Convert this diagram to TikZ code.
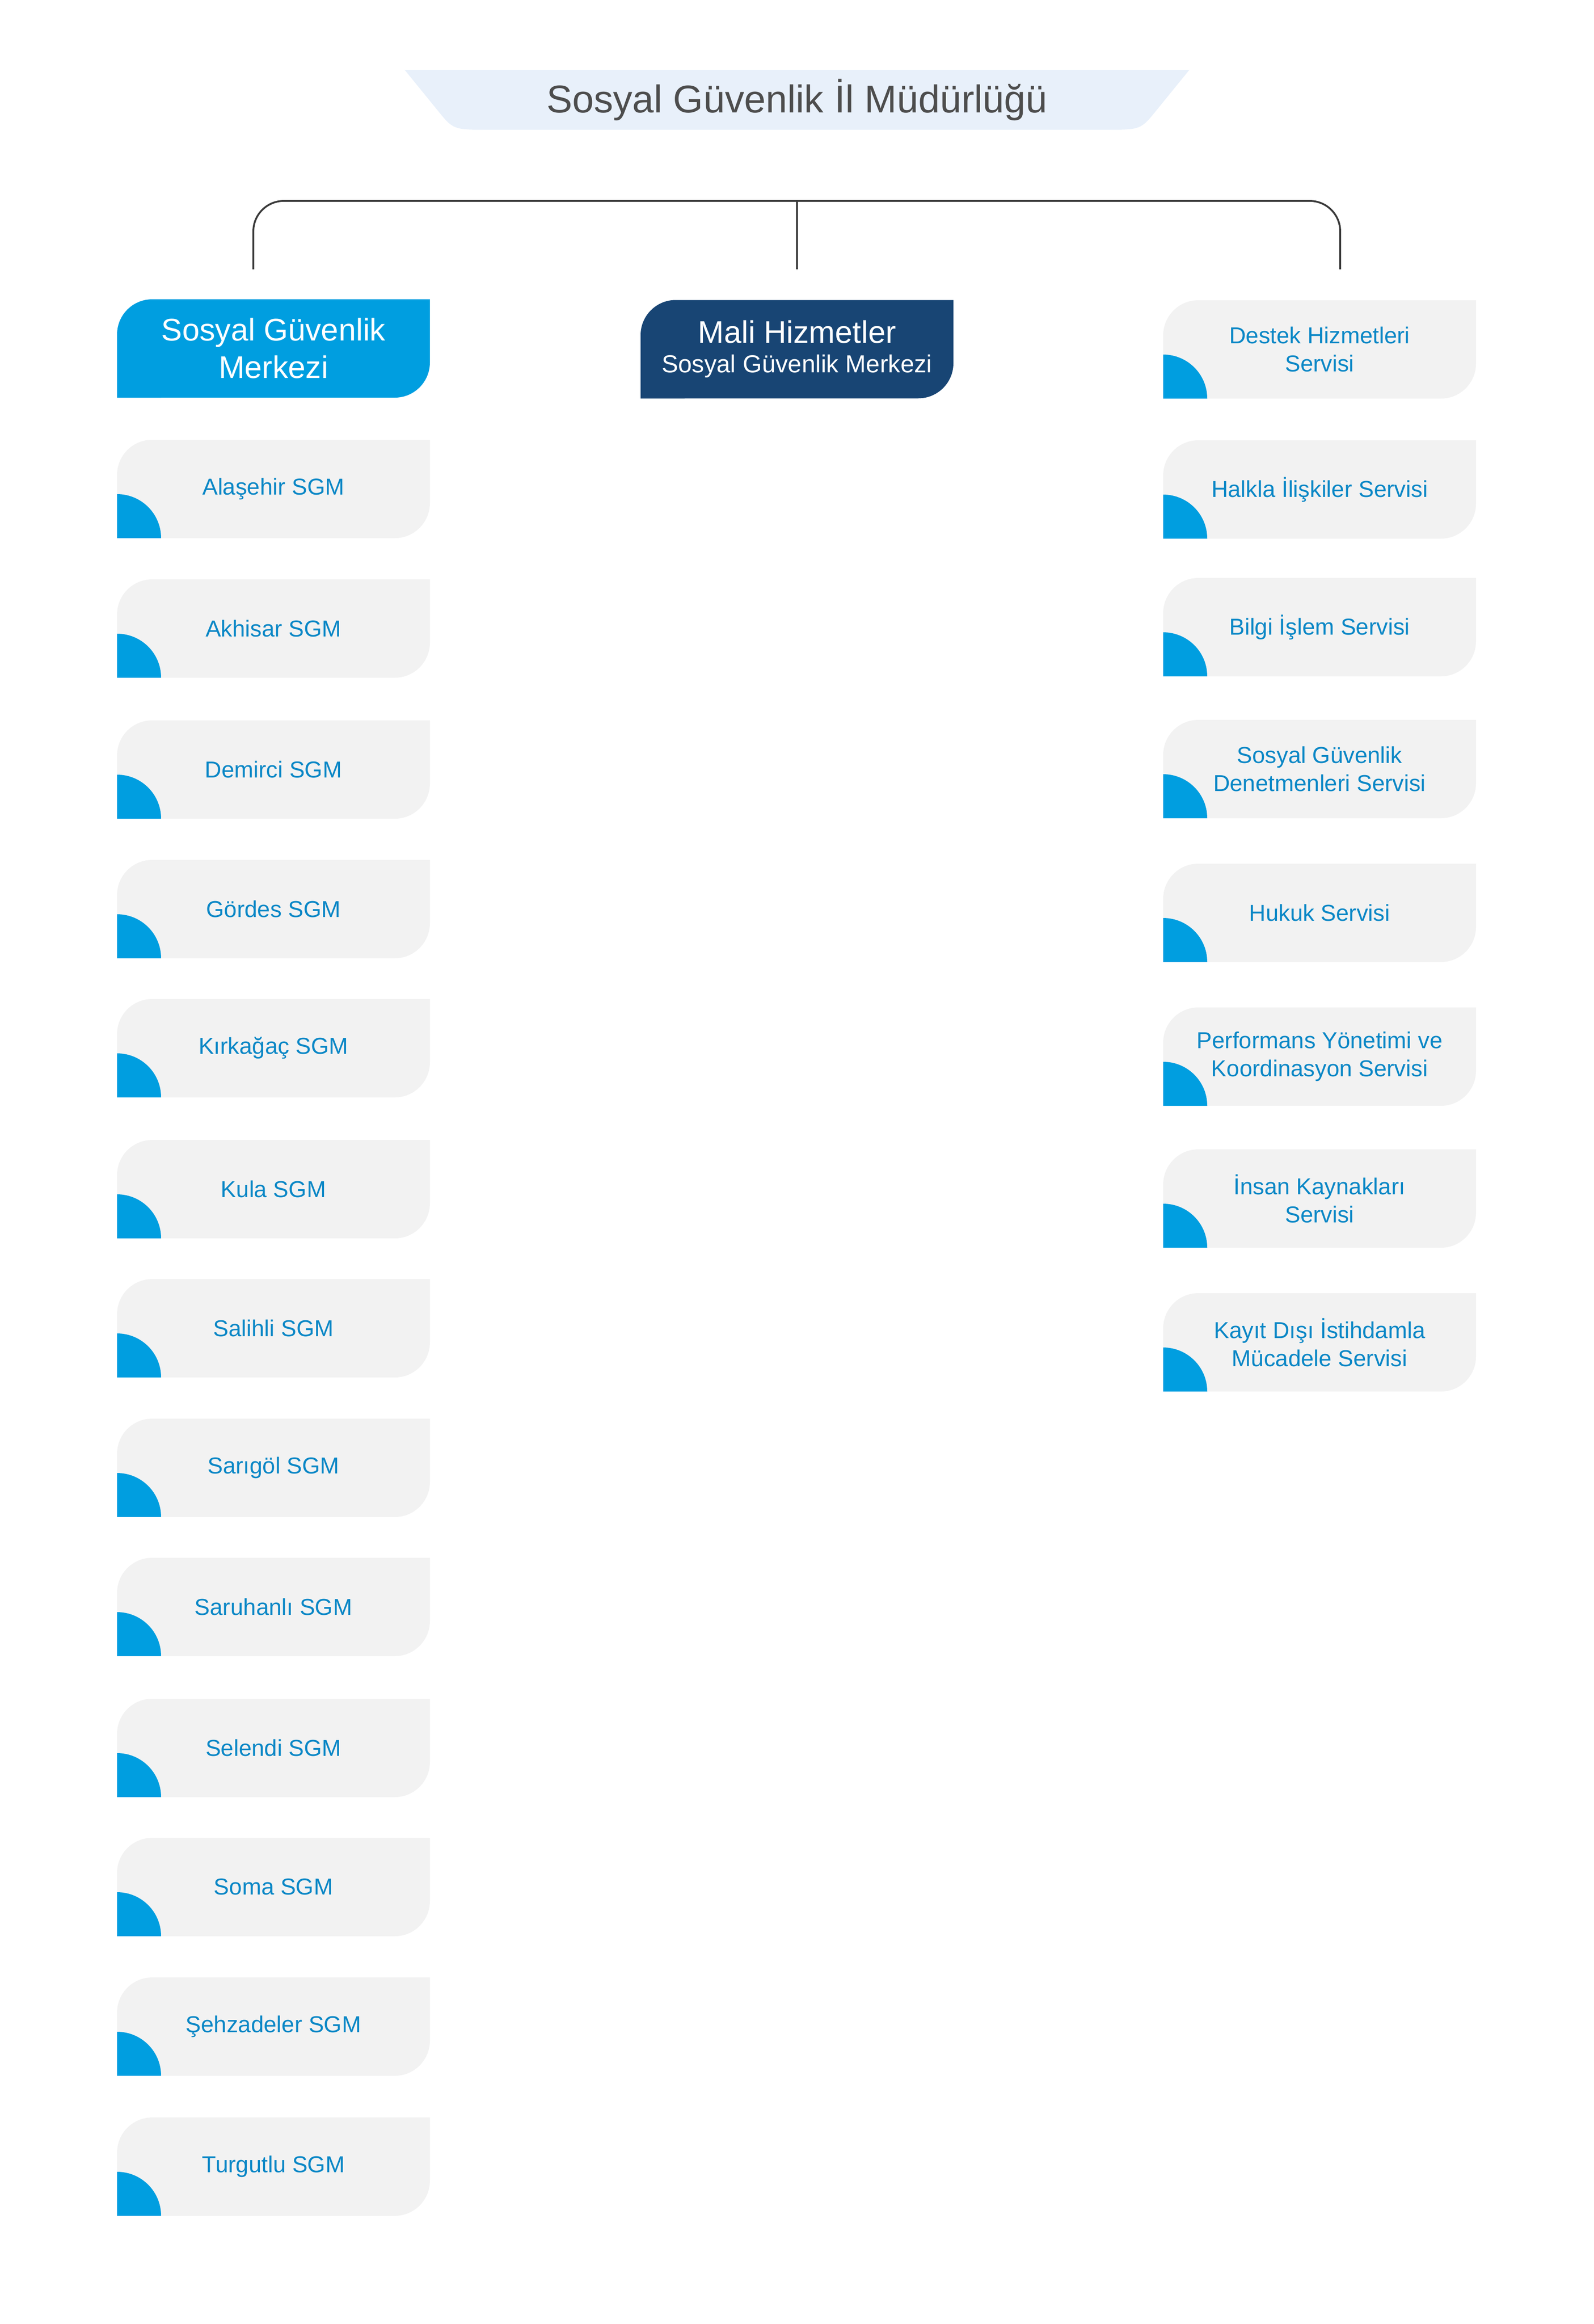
\documentclass[tikz,border=0pt]{standalone}
\usepackage{fontspec}
\setmainfont{Liberation Sans}

\definecolor{titlefill}{HTML}{E8F0FA}
\definecolor{titlegray}{HTML}{4D4D4D}
\definecolor{headblue}{HTML}{009EE0}
\definecolor{navy}{HTML}{184574}
\definecolor{boxgray}{HTML}{F2F2F2}
\definecolor{cornerblue}{HTML}{009EE0}
\definecolor{itemblue}{HTML}{0A87C6}
\definecolor{linegray}{HTML}{3A3A3A}

\tikzset{
  tab/.style 2 args={rectangle, minimum width=6.68cm, minimum height=2.1cm,
    inner sep=0pt, align=center, fill=white,
    path picture={
      \fill[#1] (path picture bounding box.south west)
        -- ([yshift=-7.5mm]path picture bounding box.north west)
        arc[start angle=180, end angle=90, radius=7.5mm]
        -- (path picture bounding box.north east)
        -- ([yshift=7.5mm]path picture bounding box.south east)
        arc[start angle=0, end angle=-90, radius=7.5mm] -- cycle;
      \fill[#2] (path picture bounding box.south west) -- ++(0,9.4mm)
        arc[start angle=90, end angle=0, radius=9.4mm] -- cycle;}},
  sgmbox/.style={tab={boxgray}{cornerblue}, text=itemblue,
    font=\fontsize{14}{17}\selectfont},
  busline/.style={draw=linegray, line width=1.1pt}
}

\begin{document}
\begin{tikzpicture}
\useasboundingbox (0,0) rectangle (34.04,-49.62);
%
\fill[titlefill] (8.64,-1.49) -- (25.40,-1.49) -- (24.70,-2.35)
  .. controls (24.36,-2.77) .. (23.62,-2.77) -- (10.42,-2.77)
  .. controls (9.68,-2.77) .. (9.34,-2.35) -- cycle;
\node[anchor=base, text=titlegray, font=\fontsize{23.5}{28}\selectfont] (title)
  at (17.02,-2.40) {Sosyal Güvenlik İl Müdürlüğü};
%
\coordinate (bus) at (17.02,-4.29);
\coordinate (leftend) at (5.41,-5.75);
\coordinate (midend) at (17.02,-5.75);
\coordinate (rightend) at (28.62,-5.75);
\draw[busline, rounded corners=6.5mm] (leftend) |- (bus) -| (rightend);
\draw[busline] (bus) -- (midend);
%
\node[tab={headblue}{headblue}, text=white, font=\fontsize{19}{22.7}\selectfont]
  (sgm) at (5.84,-7.44) {Sosyal Güvenlik\\Merkezi};
\node[tab={navy}{navy}, text=white, font=\fontsize{15}{17.9}\selectfont]
  (mali) at (17.02,-7.455) {{\fontsize{19}{22}\selectfont Mali Hizmetler}\\Sosyal Güvenlik Merkezi};
%
\node[sgmbox] (alasehir) at (5.84,-10.44) {Alaşehir SGM};
\node[sgmbox] (akhisar) at (5.84,-13.42) {Akhisar SGM};
\node[sgmbox] (demirci) at (5.84,-16.43) {Demirci SGM};
\node[sgmbox] (gordes) at (5.84,-19.41) {Gördes SGM};
\node[sgmbox] (kirkagac) at (5.84,-22.38) {Kırkağaç SGM};
\node[sgmbox] (kula) at (5.84,-25.39) {Kula SGM};
\node[sgmbox] (salihli) at (5.84,-28.36) {Salihli SGM};
\node[sgmbox] (sarigol) at (5.84,-31.34) {Sarıgöl SGM};
\node[sgmbox] (saruhanli) at (5.84,-34.31) {Saruhanlı SGM};
\node[sgmbox] (selendi) at (5.84,-37.32) {Selendi SGM};
\node[sgmbox] (soma) at (5.84,-40.29) {Soma SGM};
\node[sgmbox] (sehzadeler) at (5.84,-43.27) {Şehzadeler SGM};
\node[sgmbox] (turgutlu) at (5.84,-46.26) {Turgutlu SGM};
%
\node[sgmbox] (destek) at (28.18,-7.46) {Destek Hizmetleri\\Servisi};
\node[sgmbox] (halkla) at (28.18,-10.45) {Halkla İlişkiler Servisi};
\node[sgmbox] (bilgi) at (28.18,-13.39) {Bilgi İşlem Servisi};
\node[sgmbox] (denetmen) at (28.18,-16.42) {Sosyal Güvenlik\\Denetmenleri Servisi};
\node[sgmbox] (hukuk) at (28.18,-19.49) {Hukuk Servisi};
\node[sgmbox] (performans) at (28.18,-22.56) {Performans Yönetimi ve\\Koordinasyon Servisi};
\node[sgmbox] (insan) at (28.18,-25.59) {İnsan Kaynakları\\Servisi};
\node[sgmbox] (kayit) at (28.18,-28.66) {Kayıt Dışı İstihdamla\\Mücadele Servisi};
\end{tikzpicture}
\end{document}
